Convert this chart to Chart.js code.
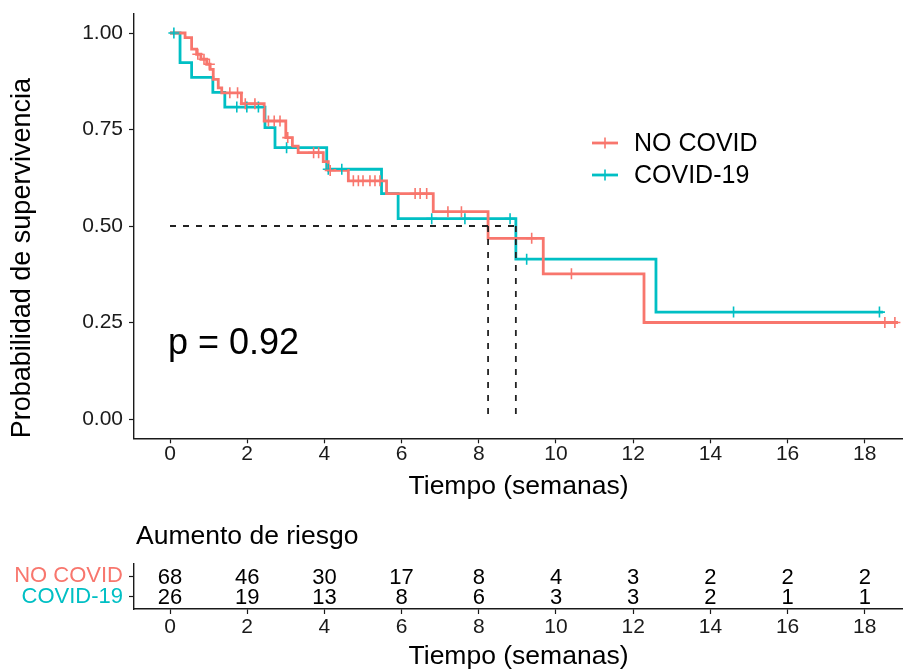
<!DOCTYPE html>
<html>
<head>
<meta charset="utf-8">
<script src="https://cdn.jsdelivr.net/npm/chart.js@4.4.1/dist/chart.umd.min.js"></script>
<style>
  html, body { margin: 0; padding: 0; background: #fff; }
  #wrap { width: 903px; height: 670px; }
  canvas { display: block; }
</style>
</head>
<body>
<div id="wrap">
  <canvas id="curva" width="903" height="500"></canvas>
  <canvas id="riesgo" width="903" height="170"></canvas>
</div>
<script>
// grupos
const grupos = ['NO COVID', 'COVID-19'];
const colores = ['#F8766D', '#00BFC4'];

// curva NO COVID (tiempo en semanas, supervivencia)
const noCovidTiempo = [0, 0.39, 0.56, 0.69, 0.80, 0.95, 1.04, 1.12, 1.25, 1.34, 1.85, 2.44, 3.0, 3.17, 3.32, 3.97, 4.10, 4.62, 5.61, 6.82, 8.24, 9.67, 12.28, 18.86];
const noCovidSurv   = [1.0, 0.988, 0.958, 0.945, 0.932, 0.919, 0.906, 0.880, 0.858, 0.845, 0.817, 0.772, 0.729, 0.707, 0.690, 0.667, 0.644, 0.617, 0.584, 0.537, 0.468, 0.376, 0.250, 0.250];
const noCovidCensura = [0.72, 0.88, 1.02, 1.55, 1.75, 1.95, 2.2, 2.55, 2.7, 2.85, 3.05, 3.72, 3.85, 4.15, 4.75, 4.88, 5.0, 5.18, 5.31, 5.44, 6.35, 6.48, 6.65, 7.2, 7.55, 9.37, 10.4, 18.52, 18.78];

// curva COVID-19
const covidTiempo = [0, 0.26, 0.56, 1.11, 1.42, 2.46, 2.72, 4.06, 5.48, 5.91, 8.96, 12.59, 18.47];
const covidSurv   = [1.0, 0.923, 0.885, 0.846, 0.808, 0.755, 0.703, 0.647, 0.584, 0.519, 0.414, 0.277, 0.277];
const covidCensura = [0.1, 1.73, 1.99, 2.29, 3.02, 4.1, 4.45, 6.78, 7.64, 8.81, 9.24, 14.6, 18.38];

// medianas
const medianas = [8.24, 8.96];
const pValor = 'p = 0.92';

// ejes
const xTicks = [0, 2, 4, 6, 8, 10, 12, 14, 16, 18];
const yTicks = [0, 0.25, 0.5, 0.75, 1];

// tabla de riesgo
const riesgoTiempo = [0, 2, 4, 6, 8, 10, 12, 14, 16, 18];
const noCovidRiesgo = [68, 46, 30, 17, 8, 4, 3, 2, 2, 2];
const covidRiesgo   = [26, 19, 13, 8, 6, 3, 3, 2, 1, 1];

Chart.defaults.font.family = '"Liberation Sans", Arial, Helvetica, sans-serif';
Chart.defaults.color = '#1a1a1a';

const X_MIN = -0.933, X_MAX = 18.99;
const FONDO = '#1a1a1a';

function survEn(tiempos, surv, t) {
    let s = surv[0];
    for (let i = 0; i < tiempos.length; i++) { if (tiempos[i] <= t) s = surv[i]; }
    return s;
}
function puntos(ts, ss) { return ts.map((t, i) => ({ x: t, y: ss[i] })); }

const lineaMediana = { type: 'scatter', showLine: true, borderColor: '#222', borderWidth: 1.8, borderDash: [6, 7], pointRadius: 0, order: 0 };

const datasetsCurva = [
    Object.assign({ label: 'medianaH', data: [{ x: 0, y: 0.5 }, { x: Math.max(...medianas), y: 0.5 }] }, lineaMediana),
    ...medianas.map(m => Object.assign({ label: 'mediana', data: [{ x: m, y: 0.5 }, { x: m, y: 0 }] }, lineaMediana)),
    { label: grupos[0] + ' c', data: noCovidCensura.map(t => ({ x: t, y: survEn(noCovidTiempo, noCovidSurv, t) })),
      pointStyle: 'cross', pointRadius: 5.5, borderColor: colores[0], borderWidth: 1.6, showLine: false, order: 1 },
    { label: grupos[1] + ' c', data: covidCensura.map(t => ({ x: t, y: survEn(covidTiempo, covidSurv, t) })),
      pointStyle: 'cross', pointRadius: 5.5, borderColor: colores[1], borderWidth: 1.6, showLine: false, order: 1 },
    { label: grupos[0], data: puntos(noCovidTiempo, noCovidSurv), showLine: true, stepped: true,
      borderColor: colores[0], borderWidth: 2.8, pointRadius: 0, order: 2 },
    { label: grupos[1], data: puntos(covidTiempo, covidSurv), showLine: true, stepped: true,
      borderColor: colores[1], borderWidth: 2.8, pointRadius: 0, order: 2 }
];

const extrasCurva = {
    id: 'extrasCurva',
    afterDraw(chart) {
        const ctx = chart.ctx, xs = chart.scales.x, ys = chart.scales.y;
        ctx.save();
        // p valor
        ctx.fillStyle = '#000';
        ctx.font = '36px "Liberation Sans", Arial, sans-serif';
        ctx.textBaseline = 'middle';
        ctx.textAlign = 'left';
        ctx.fillText(pValor, xs.getPixelForValue(0) - 2, ys.getPixelForValue(0.2) + 2);
        // leyenda
        const lx = 592, ly = [143, 175];
        ctx.font = '25px "Liberation Sans", Arial, sans-serif';
        grupos.forEach((g, i) => {
            ctx.strokeStyle = colores[i];
            ctx.lineWidth = 2.8;
            ctx.beginPath(); ctx.moveTo(lx, ly[i]); ctx.lineTo(lx + 26, ly[i]); ctx.stroke();
            ctx.lineWidth = 1.6;
            ctx.beginPath(); ctx.moveTo(lx + 13, ly[i] - 5.5); ctx.lineTo(lx + 13, ly[i] + 5.5); ctx.stroke();
            ctx.fillStyle = '#000';
            ctx.fillText(g, lx + 42, ly[i] + 1);
        });
        ctx.restore();
    }
};

new Chart(document.getElementById('curva'), {
    type: 'scatter',
    data: { datasets: datasetsCurva },
    options: {
        responsive: false, animation: false, devicePixelRatio: 1,
        layout: { autoPadding: false, padding: { top: 13.7, left: 0, right: 0, bottom: 0 } },
        plugins: { legend: { display: false }, tooltip: { enabled: false } },
        scales: {
            x: {
                type: 'linear', min: X_MIN, max: X_MAX,
                afterBuildTicks: s => { s.ticks = xTicks.map(v => ({ value: v })); },
                afterFit: s => { s.height = 61.7; },
                grid: { drawOnChartArea: false, tickLength: 5, tickColor: FONDO, tickWidth: 1.2 },
                border: { display: true, color: FONDO, width: 1.4 },
                ticks: { color: FONDO, font: { size: 21, lineHeight: 1 }, padding: 0, maxRotation: 0, autoSkip: false, callback: v => String(v) },
                title: { display: true, text: 'Tiempo (semanas)', color: '#000', font: { size: 26.5, lineHeight: 1 }, padding: 0 }
            },
            y: {
                type: 'linear', min: -0.05, max: 1.05,
                afterBuildTicks: s => { s.ticks = yTicks.map(v => ({ value: v })); },
                afterFit: s => { s.width = 134; s.paddingTop = 0; s.paddingBottom = 0; },
                grid: { drawOnChartArea: false, tickLength: 5, tickColor: FONDO, tickWidth: 1.2 },
                border: { display: true, color: FONDO, width: 1.4 },
                ticks: { color: FONDO, font: { size: 21, lineHeight: 1 }, padding: 6, callback: v => v.toFixed(2) },
                title: { display: true, text: 'Probabilidad de supervivencia', align: 'start', color: '#000',
                         font: { size: 27, lineHeight: 1 }, padding: { top: 9, bottom: 0 } }
            }
        }
    },
    plugins: [extrasCurva]
});

// tabla
const filas = [2, 1];
const datasetsRiesgo = [
    { label: grupos[0], data: riesgoTiempo.map(t => ({ x: t, y: filas[0] })), valores: noCovidRiesgo, pointRadius: 0 },
    { label: grupos[1], data: riesgoTiempo.map(t => ({ x: t, y: filas[1] })), valores: covidRiesgo, pointRadius: 0 }
];

const textoTabla = {
    id: 'textoTabla',
    afterDatasetsDraw(chart) {
        const ctx = chart.ctx;
        ctx.save();
        ctx.fillStyle = '#000';
        ctx.font = '26.5px "Liberation Sans", Arial, sans-serif';
        ctx.textAlign = 'left';
        ctx.textBaseline = 'middle';
        ctx.fillText('Aumento de riesgo', chart.chartArea.left + 2, 37);
        ctx.font = '22px "Liberation Sans", Arial, sans-serif';
        ctx.textAlign = 'center';
        chart.data.datasets.forEach((ds, i) => {
            chart.getDatasetMeta(i).data.forEach((p, j) => {
                ctx.fillText(String(ds.valores[j]), p.x, p.y + 1.5);
            });
        });
        ctx.restore();
    }
};

new Chart(document.getElementById('riesgo'), {
    type: 'scatter',
    data: { datasets: datasetsRiesgo },
    options: {
        responsive: false, animation: false, devicePixelRatio: 1,
        layout: { autoPadding: false, padding: { top: 64, left: 0, right: 0, bottom: 0 } },
        plugins: { legend: { display: false }, tooltip: { enabled: false } },
        scales: {
            x: {
                type: 'linear', min: X_MIN, max: X_MAX,
                afterBuildTicks: s => { s.ticks = xTicks.map(v => ({ value: v })); },
                afterFit: s => { s.height = 61; },
                grid: { drawOnChartArea: false, tickLength: 5, tickColor: FONDO, tickWidth: 1.2 },
                border: { display: true, color: FONDO, width: 1.4 },
                ticks: { color: FONDO, font: { size: 21, lineHeight: 1 }, padding: 3, maxRotation: 0, autoSkip: false, callback: v => String(v) },
                title: { display: true, text: 'Tiempo (semanas)', color: '#000', font: { size: 26.5, lineHeight: 1 }, padding: 0 }
            },
            y: {
                type: 'linear', min: 0.4, max: 2.6,
                afterBuildTicks: s => { s.ticks = filas.map(v => ({ value: v })); },
                afterFit: s => { s.width = 134; s.paddingTop = 0; s.paddingBottom = 0; },
                grid: { drawOnChartArea: false, tickLength: 5, tickColor: FONDO, tickWidth: 1.2 },
                border: { display: true, color: FONDO, width: 1.4 },
                ticks: { font: { size: 22, lineHeight: 1 }, padding: 6,
                         color: c => colores[filas.indexOf(c.tick.value)],
                         callback: v => grupos[filas.indexOf(v)] }
            }
        }
    },
    plugins: [textoTabla]
});
</script>
</body>
</html>
